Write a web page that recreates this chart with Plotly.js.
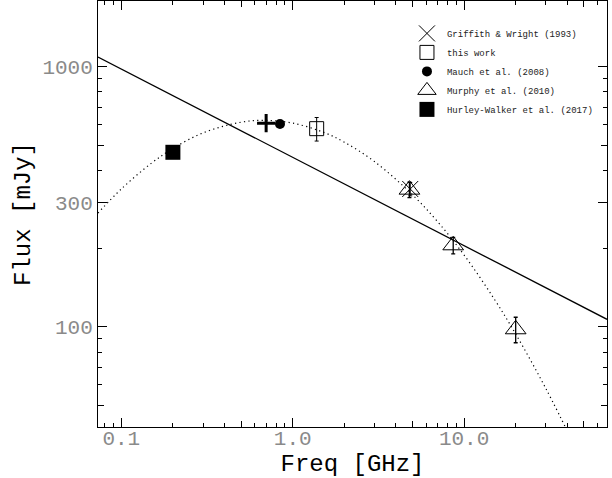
<!DOCTYPE html>
<html>
<head>
<meta charset="utf-8">
<script src="https://cdn.plot.ly/plotly-3.0.1.min.js"></script>
<style>html,body{margin:0;padding:0;background:#fff;}#chart{width:612px;height:478px;}</style>
</head>
<body>
<div id="chart"></div>
<script>
// ---- data ----
var griffithFreq = [4.85];
var griffithFlux = [339];
var griffithErr = [20];

var thisWorkFreq = [1.38];
var thisWorkFlux = [578];
var thisWorkErr = [60];

var mauchFreq = [0.843];
var mauchFlux = [602];

var murphyFreq = [4.8, 8.64, 20];
var murphyFlux = [337, 206, 98];
var murphyErr = [23, 15, 11];

var hurleyFreq = [0.2];
var hurleyFlux = [469];

var plusFreq = [0.70];
var plusFlux = [607];

// power-law fit (solid line)
var plFreq = [0.0731, 68.2];
var plFlux = [1090, 107];

// curved fit (dotted line)
var cvFreq = [0.0731, 0.1, 0.15, 0.2, 0.3, 0.5, 0.7, 1.0, 1.5, 2, 3, 5, 7, 10, 15, 20, 30, 45];
var cvFlux = [274, 339, 426, 485, 557, 612, 622, 607, 561, 513, 432, 322, 254, 189, 128, 94, 58, 34];

// axis ticks
var xMajor = [0.1, 1, 10];
var xMajorText = ['0.1', '1.0', '10.0'];
var xMid = [0.5, 5, 50];
var xMinor = [0.08, 0.09, 0.2, 0.3, 0.4, 0.6, 0.7, 0.8, 0.9, 2, 3, 4, 6, 7, 8, 9, 20, 30, 40, 60];
var yMajor = [100, 300, 1000];
var yMajorText = ['100', '300', '1000'];
var yMid = [50, 500];
var yMinor = [60, 70, 80, 90, 200, 400, 600, 700, 800, 900];

var FONT = 'Liberation Mono, Courier New, monospace';
var xRange = [-1.1359, 1.8338];
var yRange = [1.6158, 3.2524];

var traces = [
  {x: cvFreq, y: cvFlux, mode: 'lines', line: {color: '#000', width: 1.2, dash: '1.2px,3.3px', shape: 'spline'}, showlegend: false, hoverinfo: 'skip'},
  {x: plFreq, y: plFlux, mode: 'lines', line: {color: '#000', width: 1.3}, showlegend: false, hoverinfo: 'skip'},
  {x: griffithFreq, y: griffithFlux, mode: 'markers', name: 'Griffith & Wright (1993)',
   error_y: {type: 'data', array: griffithErr, color: '#000', thickness: 1, width: 2},
   marker: {symbol: 'x-thin-open', size: 16, color: '#000', line: {color: '#000', width: 1}}},
  {x: thisWorkFreq, y: thisWorkFlux, mode: 'markers', name: 'this work',
   error_y: {type: 'data', array: thisWorkErr, color: '#000', thickness: 1, width: 2},
   marker: {symbol: 'square-open', size: 14, color: '#000', line: {color: '#000', width: 1}}},
  {x: mauchFreq, y: mauchFlux, mode: 'markers', name: 'Mauch et al. (2008)',
   marker: {symbol: 'circle', size: 10, color: '#000'}},
  {x: murphyFreq, y: murphyFlux, mode: 'markers', name: 'Murphy et al. (2010)',
   error_y: {type: 'data', array: murphyErr, color: '#000', thickness: 1.3, width: 2},
   marker: {symbol: 'triangle-up-open', size: 18, color: '#000', line: {color: '#000', width: 1}}},
  {x: hurleyFreq, y: hurleyFlux, mode: 'markers', name: 'Hurley-Walker et al. (2017)',
   marker: {symbol: 'square', size: 15, color: '#000'}},
  {x: plusFreq, y: plusFlux, mode: 'markers', showlegend: false,
   marker: {symbol: 'cross-thin-open', size: 13, color: '#000', line: {color: '#000', width: 3}}},
  {x: [], y: [], xaxis: 'x2', yaxis: 'y2', showlegend: false}
];

var layout = {
  width: 612, height: 478,
  margin: {l: 98, r: 5, t: 1, b: 51, pad: 0},
  paper_bgcolor: '#fff', plot_bgcolor: '#fff',
  font: {family: FONT, color: '#000'},
  showlegend: true,
  legend: {x: 0.607, y: 0.958, xanchor: 'left', yanchor: 'top', bgcolor: 'rgba(0,0,0,0)',
           font: {family: FONT, size: 9, color: '#222'}, tracegroupgap: 0},
  xaxis: {type: 'log', range: xRange, showgrid: false, zeroline: false,
          showline: true, linecolor: '#000', linewidth: 1, mirror: 'ticks',
          ticks: 'inside', ticklen: 9, tickwidth: 1, tickcolor: '#000',
          tickmode: 'array', tickvals: xMajor, ticktext: xMajorText, ticklabelstandoff: -8,
          tickfont: {family: FONT, size: 21, color: '#8a8a8a'},
          minor: {ticks: 'inside', ticklen: 4, tickwidth: 1, tickcolor: '#000', tickmode: 'array', tickvals: xMinor, showgrid: false},
          title: {text: 'Freq [GHz]', font: {family: FONT, size: 24, color: '#000'}, standoff: 8}},
  yaxis: {type: 'log', range: yRange, showgrid: false, zeroline: false,
          showline: true, linecolor: '#000', linewidth: 1, mirror: 'ticks',
          ticks: 'inside', ticklen: 9, tickwidth: 1, tickcolor: '#000',
          tickmode: 'array', tickvals: yMajor, ticktext: yMajorText,
          tickfont: {family: FONT, size: 21, color: '#8a8a8a'},
          minor: {ticks: 'inside', ticklen: 4, tickwidth: 1, tickcolor: '#000', tickmode: 'array', tickvals: yMinor, showgrid: false},
          title: {text: 'Flux [mJy]', font: {family: FONT, size: 24, color: '#000'}, standoff: 4}},
  xaxis2: {type: 'log', range: xRange, overlaying: 'x', anchor: 'y2', side: 'bottom',
           showgrid: false, zeroline: false, showline: false, mirror: 'ticks',
           ticks: 'inside', ticklen: 6, tickwidth: 1, tickcolor: '#000',
           tickmode: 'array', tickvals: xMid, showticklabels: false},
  yaxis2: {type: 'log', range: yRange, overlaying: 'y', anchor: 'x2', side: 'left',
           showgrid: false, zeroline: false, showline: false, mirror: 'ticks',
           ticks: 'inside', ticklen: 6, tickwidth: 1, tickcolor: '#000',
           tickmode: 'array', tickvals: yMid, showticklabels: false}
};

Plotly.newPlot('chart', traces, layout, {displayModeBar: false, staticPlot: true});
</script>
</body>
</html>
